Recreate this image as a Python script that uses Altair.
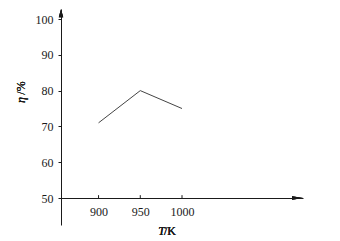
import altair as alt
import pandas as pd

# data
temps = [900, 950, 1000]
eta = [71, 80, 75]
x_ticks = [900, 950, 1000]
y_ticks = [50, 55, 60, 65, 70, 75, 80, 85, 90, 95, 100]

X_DOMAIN = [855, 1145]
Y_DOMAIN = [42.46, 102.8]
FONT = "Liberation Serif"
INK = "#1a1a1a"

df = pd.DataFrame({"T": temps, "eta": eta})
tick_df = pd.DataFrame({"T": x_ticks})

xs = alt.Scale(domain=X_DOMAIN, nice=False, zero=False)
ys = alt.Scale(domain=Y_DOMAIN, nice=False, zero=False)

x_axis = alt.Axis(values=x_ticks, title=None, offset=-27, ticks=False, grid=False,
                  domainColor=INK, domainWidth=1, labelPadding=8, labelFontSize=12,
                  labelFont=FONT, labelColor=INK, format="d")
y_axis = alt.Axis(values=y_ticks, title=None, grid=False, domainColor=INK, domainWidth=1,
                  tickColor=INK, tickSize=3, labelPadding=5, labelFontSize=12,
                  labelFont=FONT, labelColor=INK,
                  labelExpr="datum.value % 10 == 0 ? datum.label : ''")

line = alt.Chart(df).mark_line(color="#444", strokeWidth=1).encode(
    x=alt.X("T:Q", scale=xs, axis=x_axis),
    y=alt.Y("eta:Q", scale=ys, axis=y_axis),
)

xticks = alt.Chart(tick_df).mark_rule(color=INK, strokeWidth=1).encode(
    x=alt.X("T:Q", scale=xs),
    y=alt.datum(50),
    y2=alt.datum(50.8),
)

arrow_x = alt.Chart(df).mark_point(
    shape="M-1,-0.32L1,0L-1,0.32Z", filled=True, color=INK, opacity=1, size=121
).encode(x=alt.datum(1138.4), y=alt.datum(50))

arrow_y = alt.Chart(df).mark_point(
    shape="M0,-1L0.55,1L-0.55,1Z", filled=True, color=INK, opacity=1, size=64
).encode(x=alt.datum(855), y=alt.datum(101.6))

xt1 = alt.Chart(df).mark_text(text="T", font=FONT, fontSize=12, fontStyle="italic",
                              align="right", baseline="alphabetic", color=INK).encode(
    x=alt.value(104), y=alt.value(226))
xt2 = alt.Chart(df).mark_text(text="/K", font=FONT, fontSize=12,
                              align="left", baseline="alphabetic", color=INK).encode(
    x=alt.value(103), y=alt.value(226))
yt1 = alt.Chart(df).mark_text(text="η", font=FONT, fontSize=12, fontStyle="italic", angle=270,
                              align="center", baseline="middle", color=INK).encode(
    x=alt.value(-40), y=alt.value(91))
yt2 = alt.Chart(df).mark_text(text="/%", font=FONT, fontSize=12, angle=270,
                              align="center", baseline="middle", color=INK).encode(
    x=alt.value(-40), y=alt.value(79))

chart = alt.layer(line, xticks, arrow_x, arrow_y, xt1, xt2, yt1, yt2).properties(
    width=242, height=216,
    background="white",
    autosize=alt.AutoSizeParams(type="none"),
    padding={"left": 53, "top": 1, "right": 20, "bottom": 14},
).configure_view(strokeWidth=0, stroke="transparent")

chart.save("out.html", embed_options={"renderer": "svg", "actions": False})
